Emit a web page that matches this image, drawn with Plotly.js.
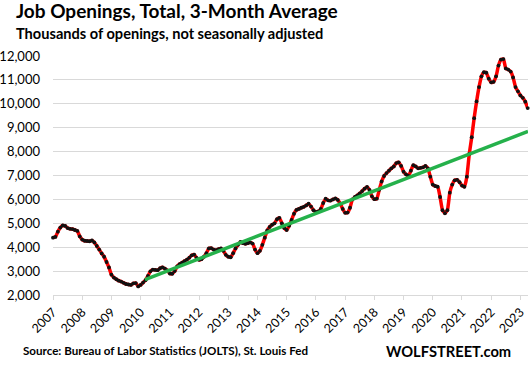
<!DOCTYPE html>
<html>
<head>
<meta charset="utf-8">
<script src="https://cdn.plot.ly/plotly-3.0.1.min.js"></script>
<style>html,body{margin:0;padding:0;background:#fff;}#chart{width:532px;height:365px;}</style>
</head>
<body>
<div id="chart"></div>
<script>
// Monthly 3-month average job openings (thousands), Jan 2007 onward
const startYear = 2007;
const openings = [
  4400,4430,4650,4820,4910,4890,4800,4770,4760,4720,4680,4450,
  4320,4270,4260,4250,4280,4200,4050,3900,3740,3600,3380,3150,
  2850,2730,2660,2600,2560,2510,2460,2440,2420,2490,2500,2360,
  2420,2520,2620,2800,2990,3060,3050,3040,3120,3160,3100,3030,
  2900,2890,3000,3200,3290,3350,3420,3480,3560,3660,3690,3550,
  3470,3500,3600,3750,3950,3960,3900,3880,3920,3950,3850,3680,
  3600,3580,3750,3950,4100,4220,4170,4140,4170,4200,4150,3900,
  3750,3850,4100,4400,4700,4850,4940,5000,5170,5230,5000,4800,
  4720,4900,5140,5400,5560,5600,5650,5690,5750,5820,5700,5550,
  5480,5500,5600,5850,6030,5960,5950,6000,6040,5980,5820,5600,
  5440,5450,5650,6000,6100,6170,6250,6350,6450,6520,6400,6130,
  6010,6030,6400,6750,6980,7100,7200,7300,7380,7520,7550,7400,
  7160,7050,6980,7200,7430,7380,7300,7320,7340,7400,7300,6950,
  6620,6560,6530,6100,5550,5420,5550,6280,6620,6800,6820,6720,
  6580,6530,6950,7900,8600,9400,10100,10700,11150,11320,11300,11050,
  10900,10920,11150,11600,11850,11870,11480,11430,11350,11100,10700,10520,
  10350,10250,10090,9820
];
// Trend line endpoints (decimal year, thousands)
const trendX = [2010.15, 2023.26];
const trendY = [2640, 8850];
const yearTicks = [2007,2008,2009,2010,2011,2012,2013,2014,2015,2016,2017,2018,2019,2020,2021,2022,2023];
const yearLabels = yearTicks.map(String);
const yTicks = [2000,3000,4000,5000,6000,7000,8000,9000,10000,11000,12000];
const yLabels = ["2,000","3,000","4,000","5,000","6,000","7,000","8,000","9,000","10,000","11,000","12,000"];

const titleText = "Job Openings, Total, 3-Month Average";
const subtitleText = "Thousands of openings, not seasonally adjusted";
const sourceText = "Source: Bureau of Labor Statistics (JOLTS), St. Louis Fed";
const brandText = "WOLFSTREET.com";

const monthsX = openings.map((v, i) => startYear + i / 12);

const traces = [
  {
    x: monthsX, y: openings, type: 'scatter', mode: 'lines+markers',
    line: {color: '#ff0000', width: 3.5, shape: 'spline', smoothing: 0.5},
    marker: {color: '#111111', size: 3.8},
    hoverinfo: 'skip', showlegend: false, cliponaxis: false
  },
  {
    x: trendX, y: trendY, type: 'scatter', mode: 'lines',
    line: {color: '#25b14b', width: 3.5},
    hoverinfo: 'skip', showlegend: false
  }
];

const font = "Lato, 'Open Sans', sans-serif";
const layout = {
  width: 532, height: 365,
  margin: {l: 53, r: 4, t: 56, b: 70},
  paper_bgcolor: '#ffffff', plot_bgcolor: '#ffffff',
  font: {family: font, color: '#000000', size: 12},
  showlegend: false,
  xaxis: {
    range: [2007, 2023.26], tickmode: 'array', tickvals: yearTicks, ticktext: yearLabels,
    tickangle: -45, ticks: 'outside', ticklen: 4, tickcolor: '#d9d9d9', tickwidth: 1,
    showgrid: false, zeroline: false, showline: true, linecolor: '#d9d9d9', linewidth: 1,
    tickfont: {family: font, size: 12.5, color: '#000'}
  },
  yaxis: {
    range: [2000, 12000], tickmode: 'array', tickvals: yTicks, ticktext: yLabels,
    showgrid: true, gridcolor: '#d9d9d9', gridwidth: 1, zeroline: false, showline: false,
    ticks: '', ticklabelstandoff: 12,
    tickfont: {family: font, size: 13, color: '#000'}
  },
  annotations: [
    {text: '<b>' + titleText + '</b>', xref: 'paper', yref: 'paper', x: -0.0828, y: 1.19,
     xanchor: 'left', yanchor: 'middle', showarrow: false, font: {family: font, size: 19, color: '#000'}},
    {text: '<b>' + subtitleText + '</b>', xref: 'paper', yref: 'paper', x: -0.0828, y: 1.093,
     xanchor: 'left', yanchor: 'middle', showarrow: false, font: {family: font, size: 14.6, color: '#000'}},
    {text: '<b>' + sourceText + '</b>', xref: 'paper', yref: 'paper', x: -0.068, y: -0.234,
     xanchor: 'left', yanchor: 'middle', showarrow: false, font: {family: font, size: 11.6, color: '#000'}},
    {text: '<b>' + brandText + '</b>', xref: 'paper', yref: 'paper', x: 0.968, y: -0.234,
     xanchor: 'right', yanchor: 'middle', showarrow: false, font: {family: font, size: 14.7, color: '#000'}}
  ]
};

Plotly.newPlot('chart', traces, layout, {displayModeBar: false, staticPlot: true});
</script>
</body>
</html>
